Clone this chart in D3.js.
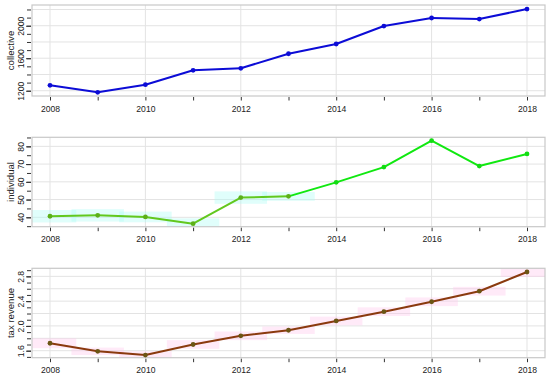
<!DOCTYPE html>
<html>
<head>
<meta charset="utf-8">
<script src="https://cdn.jsdelivr.net/npm/d3@7"></script>
<style>
  body { margin: 0; background: #fff; }
  text { font-family: "Liberation Sans", Arial, sans-serif; fill: #222; }
</style>
</head>
<body>
<div id="chart"></div>
<script>
/* global d3 */

var years = [2008, 2009, 2010, 2011, 2012, 2013, 2014, 2015, 2016, 2017, 2018];
var yearLabels = [2008, 2010, 2012, 2014, 2016, 2018];

/* series values */
var collective = [1266, 1180, 1274, 1451, 1476, 1655, 1775, 1996, 2095, 2082, 2205];
var individual = [40.6, 41.1, 40.2, 36.4, 51.1, 51.8, 59.7, 68.3, 83.2, 68.9, 75.7];
var taxRevenue = [1.72, 1.59, 1.53, 1.70, 1.84, 1.93, 2.08, 2.23, 2.39, 2.56, 2.87];

/* shaded band half widths (data units), null = no band */
var individualBand = [3.5, 3.5, 3, 3, 3.5, 2.5, null, null, null, null, null];
var taxBand = [0.08, 0.06, 0.06, 0.07, 0.07, 0.06, 0.07, 0.07, 0.07, 0.07, 0.08];

/* y tick values */
var collectiveLabels = [1200, 1600, 2000];
var collectiveGrid = [1200, 1400, 1600, 1800, 2000, 2200];
var collectiveMinor = [1200, 1300, 1400, 1500, 1600, 1700, 1800, 1900, 2000, 2100, 2200];
var individualLabels = [40, 50, 60, 70, 80];
var individualGrid = [40, 50, 60, 70, 80];
var individualMinor = [35, 40, 45, 50, 55, 60, 65, 70, 75, 80, 85];
var taxLabels = [1.6, 2.0, 2.4, 2.8];
var taxGrid = [1.6, 1.8, 2.0, 2.2, 2.4, 2.6, 2.8];
var taxMinor = [1.5, 1.6, 1.7, 1.8, 1.9, 2.0, 2.1, 2.2, 2.3, 2.4, 2.5, 2.6, 2.7, 2.8, 2.9];

var svg = d3.select("#chart").append("svg")
  .attr("width", 550)
  .attr("height", 380);

var x = d3.scaleLinear().domain([2008, 2018]).range([50, 527]);
var left = 32, right = 545;

function drawPanel(p) {
  var y = d3.scaleLinear().domain(p.domain).range([p.bottom, p.top]);
  var g = svg.append("g");

  /* grid */
  g.selectAll(".hgrid").data(p.grid).enter().append("line")
    .attr("x1", left).attr("x2", right)
    .attr("y1", function(d) { return y(d); })
    .attr("y2", function(d) { return y(d); })
    .style("stroke", "#e3e3e3").style("stroke-width", 1);
  g.selectAll(".vgrid").data(yearLabels).enter().append("line")
    .attr("x1", function(d) { return x(d); })
    .attr("x2", function(d) { return x(d); })
    .attr("y1", p.top).attr("y2", p.bottom)
    .style("stroke", "#e3e3e3").style("stroke-width", 1);

  /* shaded band */
  if (p.band) {
    var bandData = years.map(function(yr, i) {
      return { year: yr, v: p.values[i], w: p.band[i] };
    }).filter(function(d) { return d.w != null; });
    g.selectAll(".band").data(bandData).enter().append("rect")
      .attr("x", function(d) { return Math.max(left, x(d.year - 0.55)); })
      .attr("width", function(d) {
        return Math.min(right, x(d.year + 0.55)) - Math.max(left, x(d.year - 0.55));
      })
      .attr("y", function(d) { return Math.max(p.top, y(d.v + d.w)); })
      .attr("height", function(d) {
        return Math.min(p.bottom, y(d.v - d.w)) - Math.max(p.top, y(d.v + d.w));
      })
      .style("fill", p.bandColor)
      .style("opacity", 0.38);
  }

  /* frame */
  g.append("rect")
    .attr("x", left).attr("y", p.top)
    .attr("width", right - left).attr("height", p.bottom - p.top)
    .style("fill", "none").style("stroke", "#c8c8c8").style("stroke-width", 1.2);

  /* line, segment by segment */
  var segs = d3.pairs(years.map(function(yr, i) { return [yr, p.values[i], i]; }));
  g.selectAll(".seg").data(segs).enter().append("line")
    .attr("x1", function(d) { return x(d[0][0]); })
    .attr("y1", function(d) { return y(d[0][1]); })
    .attr("x2", function(d) { return x(d[1][0]); })
    .attr("y2", function(d) { return y(d[1][1]); })
    .style("stroke", function(d) { return p.lineColor(d[0][2]); })
    .style("stroke-width", 2)
    .style("stroke-linecap", "round");

  g.selectAll(".pt").data(p.values).enter().append("circle")
    .attr("cx", function(d, i) { return x(years[i]); })
    .attr("cy", function(d) { return y(d); })
    .attr("r", 2.4)
    .style("fill", function(d, i) { return p.pointColor(i); });

  /* x axis */
  var xa = g.append("g")
    .attr("transform", "translate(0," + (p.bottom + 1) + ")")
    .call(d3.axisBottom(x).tickValues(years).tickSize(3.5)
      .tickFormat(function(d) { return yearLabels.indexOf(d) >= 0 ? d : ""; }));
  xa.select(".domain").remove();
  xa.selectAll("line").style("stroke", "#333");
  xa.selectAll("text").style("font-size", "8.6px").attr("y", 8.5);

  /* y axis */
  var ym = g.append("g")
    .attr("transform", "translate(" + (left - 1) + ",0)")
    .call(d3.axisLeft(y).tickValues(p.minor).tickSize(4).tickFormat(""));
  ym.select(".domain").remove();
  ym.selectAll("line").style("stroke", "#333");

  var yl = g.append("g")
    .attr("transform", "translate(" + (left - 1) + ",0)")
    .call(d3.axisLeft(y).tickValues(p.labels).tickSize(5).tickFormat(p.format));
  yl.select(".domain").remove();
  yl.selectAll("line").style("stroke", "#333");
  yl.selectAll("text")
    .style("font-size", "8.6px")
    .attr("x", null).attr("dy", null)
    .attr("text-anchor", "middle")
    .attr("transform", function() { return "translate(-7.5,0) rotate(-90)"; })
    .attr("y", 0);

  svg.append("text")
    .attr("transform", "translate(14," + ((p.top + p.bottom) / 2) + ") rotate(-90)")
    .attr("text-anchor", "middle")
    .style("font-size", "9.6px")
    .text(p.title);
}

drawPanel({
  title: "collective",
  values: collective,
  domain: [1135, 2255],
  top: 5, bottom: 96,
  grid: collectiveGrid, minor: collectiveMinor, labels: collectiveLabels,
  format: d3.format("d"),
  lineColor: function() { return "#0c0cd6"; },
  pointColor: function() { return "#0c0cd6"; }
});

drawPanel({
  title: "individual",
  values: individual,
  domain: [34.7, 85.1],
  top: 137.3, bottom: 226.7,
  grid: individualGrid, minor: individualMinor, labels: individualLabels,
  format: d3.format("d"),
  band: individualBand, bandColor: "#aefcf4",
  lineColor: function(i) { return i < 5 ? "#62c81e" : "#10e810"; },
  pointColor: function(i) { return i <= 5 ? "#5cb018" : "#12dc12"; }
});

drawPanel({
  title: "tax revenue",
  values: taxRevenue,
  domain: [1.487, 2.93],
  top: 268.3, bottom: 357.7,
  grid: taxGrid, minor: taxMinor, labels: taxLabels,
  format: d3.format(".1f"),
  band: taxBand, bandColor: "#ffc8ec",
  lineColor: function() { return "#8a3a0e"; },
  pointColor: function() { return "#6b5514"; }
});
</script>
</body>
</html>
